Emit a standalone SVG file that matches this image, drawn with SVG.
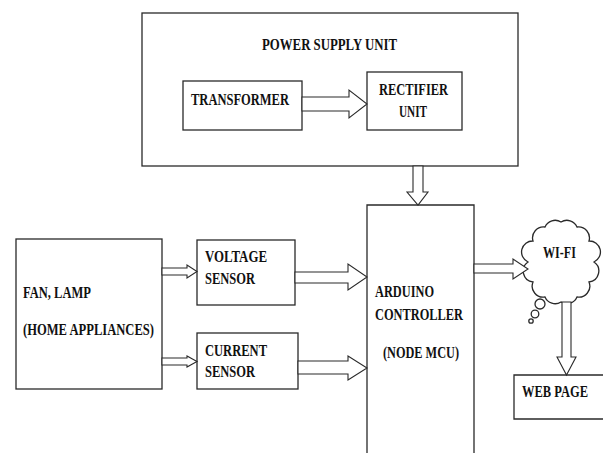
<svg xmlns="http://www.w3.org/2000/svg" width="603" height="453" viewBox="0 0 603 453">
<style>
.box{fill:#fff;stroke:#2a2a2a;stroke-width:1.3}
.arr{fill:#fff;stroke:#2a2a2a;stroke-width:1.1;stroke-linejoin:miter}
text{font-family:"Liberation Serif",serif;font-weight:bold;font-size:16px;fill:#111}
</style>
<rect width="603" height="453" fill="#fff"/>
<g id="power-supply">
<rect class="box" x="142" y="13" width="376" height="153"/>
<text x="262" y="50" textLength="135" lengthAdjust="spacingAndGlyphs">POWER SUPPLY UNIT</text>
</g>
<g id="transformer">
<rect class="box" x="183" y="81" width="119" height="49"/>
<text x="191" y="105" textLength="98" lengthAdjust="spacingAndGlyphs">TRANSFORMER</text>
</g>
<g id="rectifier">
<rect class="box" x="367" y="72" width="95" height="58"/>
<text x="379" y="95" textLength="69" lengthAdjust="spacingAndGlyphs">RECTIFIER</text>
<text x="399" y="117" textLength="28" lengthAdjust="spacingAndGlyphs">UNIT</text>
</g>
<g id="appliances">
<rect class="box" x="16" y="239" width="146" height="150"/>
<text x="23" y="298" textLength="68" lengthAdjust="spacingAndGlyphs">FAN, LAMP</text>
<text x="23" y="335" textLength="131" lengthAdjust="spacingAndGlyphs">(HOME APPLIANCES)</text>
</g>
<g id="voltage-sensor">
<rect class="box" x="197" y="240" width="98" height="65"/>
<text x="205" y="262" textLength="62" lengthAdjust="spacingAndGlyphs">VOLTAGE</text>
<text x="205" y="284" textLength="50" lengthAdjust="spacingAndGlyphs">SENSOR</text>
</g>
<g id="current-sensor">
<rect class="box" x="197" y="333" width="101" height="56"/>
<text x="205" y="356" textLength="62" lengthAdjust="spacingAndGlyphs">CURRENT</text>
<text x="205" y="377" textLength="50" lengthAdjust="spacingAndGlyphs">SENSOR</text>
</g>
<g id="arduino">
<path class="box" d="M367,460 V205 H474 V460"/>
<text x="375" y="297" textLength="59" lengthAdjust="spacingAndGlyphs">ARDUINO</text>
<text x="375" y="320" textLength="88" lengthAdjust="spacingAndGlyphs">CONTROLLER</text>
<text x="383" y="358" textLength="76" lengthAdjust="spacingAndGlyphs">(NODE MCU)</text>
</g>
<g id="wifi">
<path class="box" d="M561,222 A11,11 0 0 1 577,227 A11,11 0 0 1 589,241 A11,11 0 0 1 594,262 A11,11 0 0 1 589,282 A11,11 0 0 1 577,297 A11,11 0 0 1 561,302 A11,11 0 0 1 545,297 A11,11 0 0 1 533,282 A11,11 0 0 1 528,262 A11,11 0 0 1 533,241 A11,11 0 0 1 545,227 A11,11 0 0 1 561,222 Z"/>
<circle class="box" cx="540" cy="304" r="5"/>
<circle class="box" cx="535" cy="314" r="3.8"/>
<circle class="box" cx="531" cy="321" r="2.2"/>
<text x="543" y="258" textLength="33" lengthAdjust="spacingAndGlyphs">WI-FI</text>
</g>
<g id="web-page">
<path class="box" d="M603,375 H514 V419 H603"/>
<text x="522" y="397" textLength="66" lengthAdjust="spacingAndGlyphs">WEB PAGE</text>
</g>
<g id="connectors">
<polygon class="arr" points="302,97 349,97 349,90 367,104 349,118 349,111 302,111"/>
<polygon class="arr" points="413,166 413,192 407,192 418,205 428,192 423,192 423,166"/>
<polygon class="arr" points="162,268 187,268 187,265 197,271.5 187,278 187,275 162,275"/>
<polygon class="arr" points="162,358 187,358 187,356 197,361.5 187,367 187,365 162,365"/>
<polygon class="arr" points="295,272 348,272 348,264 367,277 348,290 348,283 295,283"/>
<polygon class="arr" points="298,361 348,361 348,356 367,368 348,380 348,374 298,374"/>
<polygon class="arr" points="474,264 513,264 513,259 528,269 513,279 513,273 474,273"/>
<polygon class="arr" points="562,302 562,357 557,357 566.5,375 576,357 571,357 571,302"/>
</g>
</svg>
